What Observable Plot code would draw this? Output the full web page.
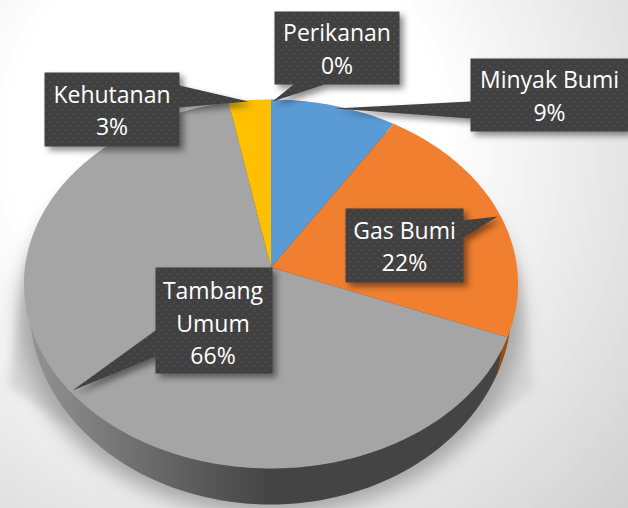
<!DOCTYPE html>
<html>
<head>
<meta charset="utf-8">
<script src="https://cdn.jsdelivr.net/npm/d3@7"></script>
<script src="https://cdn.jsdelivr.net/npm/@observablehq/plot@0.6"></script>
<style>html,body{margin:0;padding:0;background:#fff}svg{display:block}</style>
</head>
<body>
<div id="chart"></div>
<script>
const sliceNames = ["Minyak Bumi", "Gas Bumi", "Tambang Umum", "Kehutanan", "Perikanan"];
const sliceValues = [9, 22, 66, 3, 0];
const sliceColors = ["#5b9bd5", "#f07f30", "#a5a5a5", "#ffc000", "#4472c4"];
const labelTexts = ["Minyak Bumi", "Gas Bumi", "Tambang\nUmum", "Kehutanan", "Perikanan"];

// Perspective disc: centre, foreshortening
const apex = {x: 270.5, y: 267};
const R = 246, A = 183, C = -0.0894;
const project = (angle, r = 1) => {
  const u = r * Math.sin(angle), v = -r * Math.cos(angle), w = 1 + C * v;
  return {x: apex.x + R * u / w, y: apex.y + A * v / w};
};
const ellipse = (cx, cy, rx, ry, from = 0, to = 360) => d3.range(from, to + 1, 2).map(a => ({
  x: cx + rx * Math.cos(a * Math.PI / 180), y: cy + ry * Math.sin(a * Math.PI / 180)
}));

const arcs = d3.pie().sort(null)(sliceValues);
const wedgePoints = arcs.flatMap((arc, i) => {
  if (arc.endAngle <= arc.startAngle) return [];
  const n = Math.max(2, Math.ceil((arc.endAngle - arc.startAngle) * 90));
  const rim = d3.range(n + 1).map(k => project(arc.startAngle + (arc.endAngle - arc.startAngle) * k / n));
  return [apex, ...rim, apex].map(p => ({...p, name: sliceNames[i]}));
});

// Callout layout: box [left, right, top, bottom], pointer base and tip
const callouts = [
  {i: 0, box: [470, 628, 58, 131], base: [[470, 101], [470, 118]], tip: [334, 108]},
  {i: 1, box: [345, 463, 208, 282], base: [[463, 220], [463, 237]], tip: [497, 216]},
  {i: 2, box: [155, 272, 267, 373], base: [[155, 330], [155, 356]], tip: [72, 390]},
  {i: 3, box: [44, 179, 72, 146], base: [[179, 85], [179, 107]], tip: [248, 101]},
  {i: 4, box: [274, 399, 11, 84], base: [[293, 84], [324, 84]], tip: [272, 101]}
];
const outline = c => {
  const [l, r, t, b] = c.box;
  const [p, q] = c.base;
  let pts;
  if (p[0] === l) pts = [[l, t], [r, t], [r, b], [l, b], q, c.tip, p];
  else if (p[0] === r) pts = [[l, t], [r, t], p, c.tip, q, [r, b], [l, b]];
  else pts = [[l, t], [r, t], [r, b], q, c.tip, p, [l, b]];
  return [...pts, pts[0]].map(([x, y]) => ({x, y, name: sliceNames[c.i]}));
};
const calloutPoints = callouts.flatMap(outline);
const calloutLabels = callouts.map(c => ({
  x: (c.box[0] + c.box[1]) / 2 - (c.i === 2 ? 1 : 0),
  y: (c.box[2] + c.box[3]) / 2 + (c.i === 2 ? 1 : -1),
  text: `${labelTexts[c.i]}\n${sliceValues[c.i]}%`
}));

const defs = () => {
  const ns = "http://www.w3.org/2000/svg";
  const g = document.createElementNS(ns, "defs");
  g.innerHTML = `
    <linearGradient id="wall" gradientUnits="userSpaceOnUse" x1="30" x2="270" y1="0" y2="0">
      <stop offset="0" stop-color="#939393"/><stop offset="0.55" stop-color="#666"/><stop offset="1" stop-color="#444"/>
    </linearGradient>
    <pattern id="dots" patternUnits="userSpaceOnUse" width="8" height="8">
      <rect width="8" height="8" fill="#404040"/>
      <rect x="1" y="1" width="1.4" height="1.4" fill="#5c5c5c"/>
      <rect x="5" y="5" width="1.4" height="1.4" fill="#5c5c5c"/>
    </pattern>`;
  return g;
};

const lineOf = (pts, fill, extra = {}) => Plot.line(pts, {x: "x", y: "y", fill, stroke: "none", ...extra});

const chart = Plot.plot({
  width: 628, height: 508, margin: 0,
  x: {domain: [0, 628], range: [0, 628], axis: null},
  y: {domain: [0, 508], range: [0, 508], axis: null},
  color: {domain: sliceNames, range: sliceColors},
  style: {background: "radial-gradient(circle at 36% 28%, #fff 0%, #fff 40%, #d0d0d0 100%)", fontFamily: "'Open Sans', sans-serif"},
  marks: [
    defs,
    // soft cast shadow
    lineOf([{x: 27, y: 262}, {x: 8, y: 385}, {x: 60, y: 420}, {x: 490, y: 420}, {x: 534, y: 388}, {x: 516, y: 262}, {x: 27, y: 262}], "#d6d6d6", {imageFilter: "blur(4px)"}),
    lineOf(ellipse(270, 316, 250, 198), "#a4a4a4", {imageFilter: "blur(10px)"}),
    // side wall, with the sliver under the orange slice
    lineOf(ellipse(270, 306, 241, 198), "url(#wall)"),
    lineOf(ellipse(270, 306, 241, 198, -2, 20), "#9a4d10"),
    // top face
    Plot.line(wedgePoints, {x: "x", y: "y", z: "name", fill: "name", stroke: "none"}),
    // callouts
    Plot.line(calloutPoints, {x: "x", y: "y", z: "name", fill: "url(#dots)", stroke: "none",
      imageFilter: "drop-shadow(4px 4px 3px rgba(0,0,0,0.45))"}),
    Plot.text(calloutLabels, {x: "x", y: "y", text: "text", fill: "white", fontSize: 23, lineHeight: 1.41, textAnchor: "middle"})
  ]
});
document.getElementById("chart").append(chart);
</script>
</body>
</html>
